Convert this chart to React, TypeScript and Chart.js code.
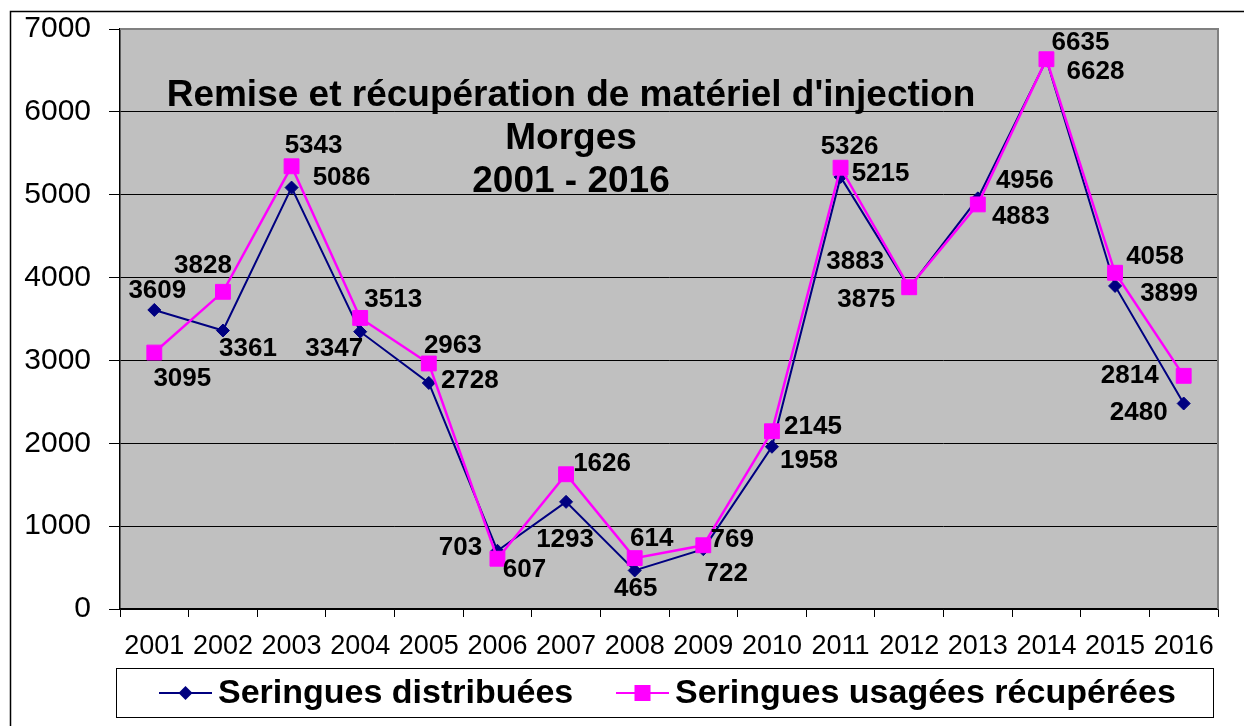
import React, { useEffect, useRef } from 'react';
import { Chart, registerables } from 'chart.js';

Chart.register(...registerables);

const years = ['2001', '2002', '2003', '2004', '2005', '2006', '2007', '2008', '2009', '2010', '2011', '2012', '2013', '2014', '2015', '2016'];
const distribuees = [3609, 3361, 5086, 3347, 2728, 703, 1293, 465, 722, 1958, 5215, 3875, 4956, 6628, 3899, 2480];
const recuperees = [3095, 3828, 5343, 3513, 2963, 607, 1626, 614, 769, 2145, 5326, 3883, 4883, 6635, 4058, 2814];
const yMin = 0;
const yMax = 7000;
const yStep = 1000;
const titleLines = ["Remise et récupération de matériel d'injection", 'Morges', '2001 - 2016'];
const seriesNames = ['Seringues distribuées', 'Seringues usagées récupérées'];

// label offsets (px) from each point to its value label centre
const distLabelOffsets: [number, number][] = [
  [3, -19], [25, 18], [50, -10], [-26, 17], [41, -2], [-37, -3], [-1, 38], [1, 18],
  [23, 25], [37, 14], [40, -3], [-43, 12], [47, -18], [49, 12], [54, 8], [-45, 9],
];
const recLabelOffsets: [number, number][] = [
  [28, 26], [-20, -26], [22, -20], [33, -18], [24, -18], [27, 11], [36, -10], [17, -19],
  [29, -5], [41, -4], [9, -21], [-54, -25], [43, 12], [34, -16], [40, -16], [-54, 0],
];

const NAVY = '#000080';
const MAGENTA = '#FF00FF';
const FONT = 'Arial, "Liberation Sans", sans-serif';

const decorPlugin = {
  id: 'decor',
  beforeDraw(chart: any) {
    const { ctx, chartArea: a } = chart;
    ctx.save();
    ctx.fillStyle = '#ffffff';
    ctx.fillRect(0, 0, chart.width, chart.height);
    // outer frame
    ctx.strokeStyle = '#000000';
    ctx.lineWidth = 1.5;
    ctx.beginPath();
    ctx.moveTo(10.5, chart.height + 5);
    ctx.lineTo(10.5, 11.5);
    ctx.lineTo(chart.width + 5, 11.5);
    ctx.stroke();
    ctx.fillStyle = '#C0C0C0';
    ctx.fillRect(a.left, a.top, a.right - a.left, a.bottom - a.top);
    ctx.restore();
  },
  afterDatasetsDraw(chart: any) {
    const { ctx, chartArea: a } = chart;
    ctx.save();
    // gray plot border top/right
    ctx.strokeStyle = '#808080';
    ctx.lineWidth = 2;
    ctx.beginPath();
    ctx.moveTo(a.left, a.top);
    ctx.lineTo(a.right, a.top);
    ctx.lineTo(a.right, a.bottom);
    ctx.stroke();

    // title
    ctx.fillStyle = '#000';
    ctx.textAlign = 'center';
    ctx.textBaseline = 'alphabetic';
    ctx.font = `bold 37px ${FONT}`;
    const cx = a.left + 451;
    const baselines = [106, 149, 192];
    titleLines.forEach((t, i) => ctx.fillText(t, cx, baselines[i]));

    // value labels
    ctx.font = `bold 26px ${FONT}`;
    ctx.textBaseline = 'middle';
    const draw = (dsIndex: number, values: number[], offs: [number, number][]) => {
      const meta = chart.getDatasetMeta(dsIndex);
      meta.data.forEach((pt: any, i: number) => {
        ctx.fillText(String(values[i]), pt.x + offs[i][0], pt.y + offs[i][1]);
      });
    };
    draw(0, distribuees, distLabelOffsets);
    draw(1, recuperees, recLabelOffsets);
    ctx.restore();
  },
  afterDraw(chart: any) {
    const { ctx } = chart;
    ctx.save();
    // legend box
    const bx = 116.5, by = 668.5, bw = 1097, bh = 49;
    ctx.fillStyle = '#ffffff';
    ctx.fillRect(bx, by, bw, bh);
    ctx.strokeStyle = '#000';
    ctx.lineWidth = 1;
    ctx.strokeRect(bx, by, bw, bh);
    const ly = 693;
    // item 1
    ctx.strokeStyle = NAVY;
    ctx.lineWidth = 2;
    ctx.beginPath();
    ctx.moveTo(159, ly);
    ctx.lineTo(212, ly);
    ctx.stroke();
    ctx.fillStyle = NAVY;
    ctx.beginPath();
    ctx.moveTo(185.5 - 7, ly);
    ctx.lineTo(185.5, ly - 7);
    ctx.lineTo(185.5 + 7, ly);
    ctx.lineTo(185.5, ly + 7);
    ctx.closePath();
    ctx.fill();
    // item 2
    ctx.strokeStyle = MAGENTA;
    ctx.beginPath();
    ctx.moveTo(616, ly);
    ctx.lineTo(669, ly);
    ctx.stroke();
    ctx.fillStyle = MAGENTA;
    ctx.fillRect(642.5 - 8, ly - 8, 16, 16);
    // texts
    ctx.fillStyle = '#000';
    ctx.font = `bold 34px ${FONT}`;
    ctx.textAlign = 'left';
    ctx.textBaseline = 'middle';
    ctx.fillText(seriesNames[0], 218, ly + 1);
    ctx.fillText(seriesNames[1], 675, ly + 1);
    ctx.restore();
  },
};

export default function App() {
  const ref = useRef<HTMLCanvasElement | null>(null);
  useEffect(() => {
    document.body.style.margin = '0';
    const canvas = ref.current;
    if (!canvas) return;
    const chart = new Chart(canvas, {
      type: 'line',
      data: {
        labels: years,
        datasets: [
          {
            label: seriesNames[0],
            data: distribuees,
            borderColor: NAVY,
            backgroundColor: NAVY,
            borderWidth: 2,
            pointStyle: 'rectRot',
            pointRadius: 6.5,
            pointBorderWidth: 1,
            pointBorderColor: NAVY,
            pointBackgroundColor: NAVY,
            tension: 0,
            order: 2,
          },
          {
            label: seriesNames[1],
            data: recuperees,
            borderColor: MAGENTA,
            backgroundColor: MAGENTA,
            borderWidth: 2.5,
            pointStyle: 'rect',
            pointRadius: 10.5,
            pointBorderWidth: 1,
            pointBorderColor: MAGENTA,
            pointBackgroundColor: MAGENTA,
            tension: 0,
            order: 1,
          },
        ],
      },
      options: {
        responsive: false,
        animation: false,
        events: [],
        layout: { padding: { left: 0, top: 29, right: 26, bottom: 0 } },
        plugins: {
          legend: { display: false },
          title: { display: false },
          tooltip: { enabled: false },
        },
        scales: {
          x: {
            type: 'category',
            offset: true,
            grid: {
              display: true,
              drawOnChartArea: false,
              drawTicks: true,
              tickLength: 8,
              color: '#000',
              offset: true,
            },
            border: { display: true, color: '#000', width: 1.5 },
            ticks: {
              color: '#000',
              font: { family: FONT, size: 27 },
              padding: 13,
              maxRotation: 0,
              autoSkip: false,
            },
            afterFit(scale: any) {
              scale.height = 117;
              scale.paddingLeft = 0;
              scale.paddingRight = 0;
            },
          },
          y: {
            min: yMin,
            max: yMax,
            grid: {
              color: '#000',
              lineWidth: 1,
              tickLength: 11,
              drawTicks: true,
            },
            border: { display: true, color: '#000', width: 1.5 },
            ticks: {
              stepSize: yStep,
              color: '#000',
              font: { family: FONT, size: 30 },
              padding: 18,
              callback: (v: any) => String(v),
            },
            afterFit(scale: any) {
              scale.width = 120;
              scale.paddingTop = 0;
              scale.paddingBottom = 0;
            },
          },
        },
      },
      plugins: [decorPlugin],
    } as any);
    return () => chart.destroy();
  }, []);
  return (
    <div style={{ position: 'absolute', left: 0, top: 0, width: 1244, height: 726 }}>
      <canvas ref={ref} width={1244} height={726} style={{ width: 1244, height: 726, display: 'block' }} />
    </div>
  );
}
